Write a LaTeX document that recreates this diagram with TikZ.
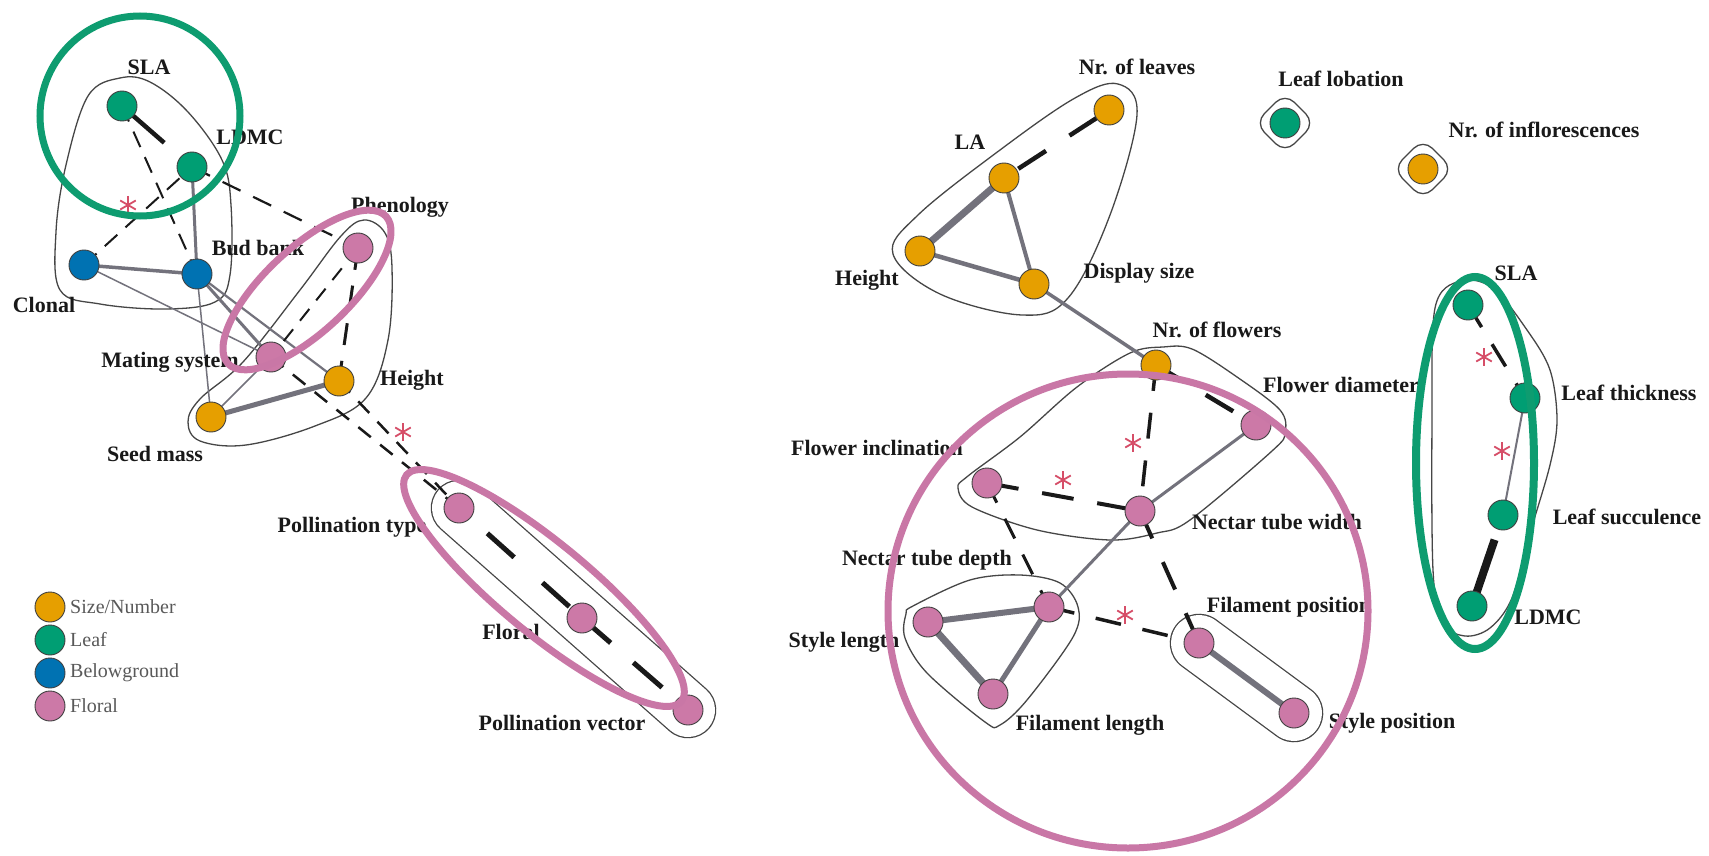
\documentclass[tikz,border=0pt]{standalone}
\usepackage{fontspec}
\setmainfont{Liberation Serif}
\usetikzlibrary{calc}
\pgfdeclarelayer{background}
\pgfdeclarelayer{foreground}
\pgfsetlayers{background,main,foreground}

\definecolor{cOrange}{HTML}{E69F00}
\definecolor{cGreen}{HTML}{009E73}
\definecolor{cBlue}{HTML}{0072B2}
\definecolor{cPink}{HTML}{CC79A7}
\definecolor{hiGreen}{HTML}{0E9C70}
\definecolor{hiPink}{HTML}{C977A6}
\definecolor{edgeGray}{RGB}{115,114,124}
\definecolor{hullGray}{RGB}{70,70,70}
\definecolor{astRed}{RGB}{214,78,104}

\tikzset{
  trait/.style={circle, minimum size=30pt, inner sep=0pt, draw=black!75, line width=0.9pt},
  sizenode/.style={trait, fill=cOrange},
  leafnode/.style={trait, fill=cGreen},
  belownode/.style={trait, fill=cBlue},
  floralnode/.style={trait, fill=cPink},
  lbl/.style={font=\bfseries\fontsize{22}{24}\selectfont, text=black!90, inner sep=0pt},
  lgd/.style={font=\fontsize{20}{22}\selectfont, text=black!65, inner sep=0pt, anchor=west},
  gline/.style={draw=edgeGray},
  dline/.style={draw=black!90, dash pattern=on 15pt off 11pt},
  hull/.style={draw=hullGray, line width=1.3pt},
  capsule/.style={draw=hullGray, line width=1.3pt, double=white, line cap=round},
  hilite/.style={line width=7pt},
  astmark/.style={circle, minimum size=24pt, inner sep=0pt, path picture={
      \foreach \a in {90,30,150}
        \draw[astRed, line width=1.8pt]
          ([shift={(\a:9pt)}]path picture bounding box.center) --
          ([shift={(\a:-9pt)}]path picture bounding box.center);}},
}

\begin{document}
\begin{tikzpicture}[x=1pt, y=-1pt]
\useasboundingbox (0,0) rectangle (1709,856);

% ---------------- left network: trait nodes ----------------
\node[leafnode]   (lSLA)    at (122,106) {};
\node[leafnode]   (lLDMC)   at (192,167) {};
\node[belownode]  (lClonal) at (84,265) {};
\node[belownode]  (lBud)    at (197,274) {};
\node[floralnode] (lPhen)   at (358,248) {};
\node[floralnode] (lMat)    at (271,357) {};
\node[sizenode]   (lHeight) at (339,381) {};
\node[sizenode]   (lSeed)   at (211,417) {};
\node[floralnode] (lPT)     at (459,508) {};
\node[floralnode] (lFloral) at (582,618) {};
\node[floralnode] (lPV)     at (688,710) {};

% ---------------- right network: trait nodes ----------------
\node[sizenode]   (rNL)     at (1109,110) {};
\node[sizenode]   (rLA)     at (1004,178) {};
\node[sizenode]   (rHeight) at (920,251) {};
\node[sizenode]   (rDisp)   at (1034,284) {};
\node[leafnode]   (rLob)    at (1285,123) {};
\node[sizenode]   (rInfl)   at (1423,169) {};
\node[sizenode]   (rNF)     at (1156,365) {};
\node[floralnode] (rFD)     at (1256,425) {};
\node[floralnode] (rFI)     at (987,483) {};
\node[floralnode] (rNTW)    at (1140,511) {};
\node[floralnode] (rNTD)    at (1049,607) {};
\node[floralnode] (rSL)     at (928,622) {};
\node[floralnode] (rFL)     at (993,694) {};
\node[floralnode] (rFP)     at (1199,643) {};
\node[floralnode] (rSP)     at (1294,713) {};
\node[leafnode]   (rSLA)    at (1468,305) {};
\node[leafnode]   (rLT)     at (1525,398) {};
\node[leafnode]   (rLS)     at (1503,515) {};
\node[leafnode]   (rLDMC)   at (1472,606) {};

\begin{pgfonlayer}{background}
\fill[white] (0,0) rectangle (1709,856);
% module outlines
\draw[hull] plot[smooth cycle, tension=0.6] coordinates {
  (120,78) (150,82) (188,112) (222,160) (231,205) (230,275) (215,302)
  (165,309) (100,304) (60,290) (56,232) (66,165) (88,96)};
\draw[hull] plot[smooth cycle, tension=0.6] coordinates {
  (364,220) (385,233) (392,268) (388,340) (366,398) (315,426) (246,445)
  (200,441) (188,422) (200,399) (243,362) (300,290) (341,236)};
\draw[capsule, double distance=54pt] (lPT.center) -- (lPV.center);

\draw[hull] plot[smooth cycle, tension=0.6] coordinates {
  (1118,84) (1137,115) (1110,215) (1068,298) (1022,315) (940,294)
  (893,254) (918,215) (1000,150) (1075,98)};
\draw[hull, rounded corners=13pt] (1285,93) -- (1315,123) -- (1285,153) -- (1255,123) -- cycle;
\draw[hull, rounded corners=13pt] (1423,139) -- (1453,169) -- (1423,199) -- (1393,169) -- cycle;
\draw[hull] plot[smooth cycle, tension=0.55] coordinates {
  (1163,347) (1192,349) (1237,377) (1280,410) (1285,433) (1272,451)
  (1190,520) (1157,533) (1110,540) (1037,530) (972,507) (958,488)
  (968,476) (1020,437) (1077,387) (1130,353)};
\draw[hull] plot[smooth cycle, tension=0.55] coordinates {
  (913,606) (970,580) (1020,575) (1060,583) (1078,607) (1073,637)
  (1027,700) (1000,725) (985,722) (927,673) (905,638) (906,614)};
\draw[capsule, double distance=56pt] (rFP.center) -- (rSP.center);
\draw[hull] plot[smooth cycle, tension=0.55] coordinates {
  (1460,281) (1493,288) (1527,330) (1550,370) (1557,420) (1550,465)
  (1531,530) (1512,598) (1490,628) (1465,636) (1442,622) (1433,570)
  (1432,420) (1435,308)};

% left network: correlations
\draw[dline, line width=4.5pt, dash pattern=on 56pt off 80pt] (lSLA.center) -- (lLDMC.center);
\draw[dline, line width=2pt, dash pattern=on 17pt off 11pt] (lSLA.center) -- (lBud.center);
\draw[dline, line width=2pt, dash pattern=on 17pt off 11pt] (lClonal.center) -- (lLDMC.center);
\draw[gline, line width=3pt] (lLDMC.center) -- (lBud.center);
\draw[dline, line width=2.2pt, dash pattern=on 20pt off 14pt] (lLDMC.center) -- (lPhen.center);
\draw[gline, line width=3.5pt] (lClonal.center) -- (lBud.center);
\draw[gline, line width=1.5pt] (lClonal.center) -- (lMat.center);
\draw[gline, line width=3pt] (lBud.center) -- (lMat.center);
\draw[gline, line width=2.2pt] (lBud.center) -- (lHeight.center);
\draw[gline, line width=1.5pt] (lBud.center) -- (lSeed.center);
\draw[dline, line width=2pt] (lPhen.center) -- (lMat.center);
\draw[dline, line width=3pt, dash pattern=on 22pt off 16pt] (lPhen.center) -- (lHeight.center);
\draw[gline, line width=1.5pt] (lMat.center) -- (lSeed.center);
\draw[gline, line width=5pt] (lSeed.center) -- (lHeight.center);
\draw[dline, line width=2.5pt, dash pattern=on 16pt off 12pt] (lMat.center) -- (lPT.center);
\draw[dline, line width=2.5pt, dash pattern=on 16pt off 12pt] (lHeight.center) -- (lPT.center);
\draw[dline, line width=5pt, dash pattern=on 36pt off 38pt, dash phase=36pt] (lPT.center) -- (lFloral.center);
\draw[dline, line width=5pt, dash pattern=on 38pt off 30pt] (lFloral.center) -- (lPV.center);

% right network: correlations
\draw[dline, line width=4.5pt, dash pattern=on 33pt off 28pt, dash phase=44pt] (rLA.center) -- (rNL.center);
\draw[gline, line width=7pt] (rLA.center) -- (rHeight.center);
\draw[gline, line width=4pt] (rLA.center) -- (rDisp.center);
\draw[gline, line width=4.5pt] (rHeight.center) -- (rDisp.center);
\draw[gline, line width=3.5pt] (rDisp.center) -- (rNF.center);
\draw[dline, line width=3.5pt, dash pattern=on 26pt off 22pt] (rNF.center) -- (rNTW.center);
\draw[dline, line width=4.5pt, dash pattern=on 32pt off 26pt] (rNF.center) -- (rFD.center);
\draw[gline, line width=3pt] (rFD.center) -- (rNTW.center);
\draw[gline, line width=3pt] (rNTW.center) -- (rNTD.center);
\draw[dline, line width=4pt, dash pattern=on 32pt off 24pt] (rFI.center) -- (rNTW.center);
\draw[dline, line width=3pt, dash pattern=on 22pt off 18pt] (rFI.center) -- (rNTD.center);
\draw[dline, line width=4pt, dash pattern=on 30pt off 26pt] (rNTW.center) -- (rFP.center);
\draw[dline, line width=3.5pt, dash pattern=on 26pt off 22pt] (rNTD.center) -- (rFP.center);
\draw[gline, line width=6pt] (rNTD.center) -- (rSL.center);
\draw[gline, line width=5pt] (rNTD.center) -- (rFL.center);
\draw[gline, line width=7pt] (rSL.center) -- (rFL.center);
\draw[gline, line width=6pt] (rFP.center) -- (rSP.center);
\draw[dline, line width=3.5pt, dash pattern=on 26pt off 20pt] (rSLA.center) -- (rLT.center);
\draw[gline, line width=2pt] (rLT.center) -- (rLS.center);
\draw[dline, line width=8pt, dash pattern=on 70pt off 40pt] (rLDMC.center) -- (rLS.center);
\end{pgfonlayer}

% ---------------- labels ----------------
\node[lbl] (tlSLA)    at (149,67)  {SLA};
\node[lbl] (tlLDMC)   at (250,137) {LDMC};
\node[lbl] (tlPhen)   at (400,207) {Phenology};
\node[lbl] (tlBud)    at (258,248) {Bud bank};
\node[lbl] (tlClonal) at (44,305)  {Clonal};
\node[lbl] (tlMat)    at (170,362) {Mating system};
\node[lbl] (tlHeight) at (412,380) {Height};
\node[lbl] (tlSeed)   at (155,454) {Seed mass};
\node[lbl] (tlPT)     at (352,527) {Pollination type};
\node[lbl] (tlFloral) at (511,632) {Floral};
\node[lbl] (tlPV)     at (562,723) {Pollination vector};

\node[lbl] (trNL)     at (1137,67)  {Nr. of leaves};
\node[lbl] (trLob)    at (1341,79)  {Leaf lobation};
\node[lbl] (trInfl)   at (1544,130) {Nr. of inflorescences};
\node[lbl] (trLA)     at (970,142)  {LA};
\node[lbl] (trHeight) at (867,280)  {Height};
\node[lbl] (trDisp)   at (1139,273) {Display size};
\node[lbl] (trNF)     at (1217,330) {Nr. of flowers};
\node[lbl] (trFD)     at (1341,385) {Flower diameter};
\node[lbl] (trFI)     at (877,448)  {Flower inclination};
\node[lbl] (trNTW)    at (1277,522) {Nectar tube width};
\node[lbl] (trNTD)    at (927,560)  {Nectar tube depth};
\node[lbl] (trSL)     at (844,642)  {Style length};
\node[lbl] (trFL)     at (1090,725) {Filament length};
\node[lbl] (trFP)     at (1289,607) {Filament position};
\node[lbl] (trSP)     at (1392,723) {Style position};
\node[lbl] (trSLA)    at (1516,273) {SLA};
\node[lbl] (trLT)     at (1629,393) {Leaf thickness};
\node[lbl] (trLS)     at (1627,517) {Leaf succulence};
\node[lbl] (trLDMC)   at (1548,617) {LDMC};

% ---------------- significance marks ----------------
\node[astmark] (ast1) at (128,205) {};
\node[astmark] (ast2) at (403,432) {};
\node[astmark] (ast3) at (1133,443) {};
\node[astmark] (ast4) at (1063,480) {};
\node[astmark] (ast5) at (1125,615) {};
\node[astmark] (ast6) at (1484,357) {};
\node[astmark] (ast7) at (1502,451) {};

% ---------------- legend ----------------
\node[sizenode]   (kSize)   at (50,607) {};
\node[leafnode]   (kLeaf)   at (50,640) {};
\node[belownode]  (kBelow)  at (50,673) {};
\node[floralnode] (kFloral) at (50,706) {};
\node[lgd] (kSizeT)   at (70,607) {Size/Number};
\node[lgd] (kLeafT)   at (70,640) {Leaf};
\node[lgd] (kBelowT)  at (70,673) {Belowground};
\node[lgd] (kFloralT) at (70,706) {Floral};

% ---------------- highlighted groups ----------------
\begin{pgfonlayer}{foreground}
\draw[hilite, hiGreen] (140,116) circle[radius=100pt];
\draw[hilite, hiPink] (307,290) ellipse[x radius=108pt, y radius=42pt, rotate=43];
\draw[hilite, hiPink] (544,588) ellipse[x radius=178pt, y radius=45pt, rotate=-39.5];
\draw[hilite, hiPink] (1128,611) ellipse[x radius=240pt, y radius=237pt];
\draw[hilite, hiGreen, line width=8pt] (1475,463) ellipse[x radius=59pt, y radius=186pt];
\end{pgfonlayer}
\end{tikzpicture}
\end{document}
